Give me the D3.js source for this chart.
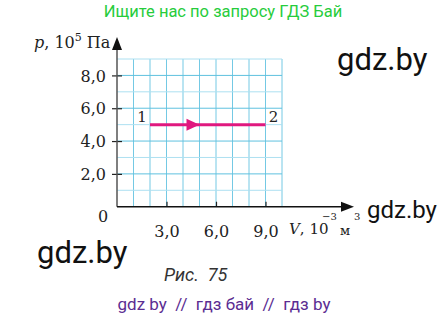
<!DOCTYPE html>
<html><head><meta charset="utf-8">
<script src="https://cdn.jsdelivr.net/npm/d3@7"></script>
<style>
html,body{margin:0;padding:0;background:#fff;}
svg{display:block;}
</style></head>
<body>
<script>
// Data
const xTicks = [3, 6, 9];
const xTickLabels = ["3,0", "6,0", "9,0"];
const yTicks = [2, 4, 6, 8];
const yTickLabels = ["2,0", "4,0", "6,0", "8,0"];
const processV = [2, 9];          // 10^-3 m^3
const processP = [5, 5];          // 10^5 Pa
const pointLabels = ["1", "2"];
const arrowAtV = 5;               // arrowhead tip position on process line
const gridV = [1,2,3,4,5,6,7,8,9,10];
const gridP = [1,2,3,4,5,6,7,8,9];

const W = 448, H = 318;
const svg = d3.select("body").append("svg").attr("width", W).attr("height", H);

const x = d3.scaleLinear().domain([0, 10]).range([117, 282]);
const y = d3.scaleLinear().domain([0, 9]).range([206.7, 59]);

const serif = "'DejaVu Serif', 'Liberation Serif', serif";
const sans = "Roboto, 'Noto Sans', sans-serif";

// Title
svg.append("text").attr("x", 223).attr("y", 17).attr("text-anchor", "middle")
  .attr("font-family", sans).attr("font-size", 16.5).attr("fill", "#27cc3c")
  .text("Ищите нас по запросу ГДЗ Бай");

// Grid
const grid = svg.append("g");
grid.selectAll("line.v").data(gridV).join("line")
  .attr("x1", d => x(d)).attr("x2", d => x(d))
  .attr("y1", y(0)).attr("y2", y(9))
  .attr("stroke", "#74c9e4").attr("stroke-width", 1);
grid.selectAll("line.h").data(gridP).join("line")
  .attr("x1", x(0)).attr("x2", x(10))
  .attr("y1", d => y(d)).attr("y2", d => y(d))
  .attr("stroke", d => d % 2 === 0 ? "#5fc1df" : "#ade0f1").attr("stroke-width", 1);

// Axes
const axisColor = "#222";
const yAxis = svg.append("g").attr("transform", `translate(${x(0)},0)`)
  .call(d3.axisLeft(y).tickValues(yTicks).tickFormat((d,i) => yTickLabels[i]).tickSize(5).tickPadding(6));
yAxis.select(".domain").remove();
yAxis.selectAll(".tick line").attr("x1", 5).attr("x2", -5).attr("stroke", axisColor).attr("stroke-width", 1.2);
yAxis.selectAll(".tick text").attr("font-family", serif).attr("font-size", 16).attr("fill", "#222").attr("dy", "0.35em");

const xAxis = svg.append("g").attr("transform", `translate(0,${y(0)})`)
  .call(d3.axisBottom(x).tickValues(xTicks).tickFormat((d,i) => xTickLabels[i]).tickSize(5).tickPadding(14));
xAxis.select(".domain").remove();
xAxis.selectAll(".tick line").attr("y1", -5).attr("y2", 0).attr("stroke", axisColor).attr("stroke-width", 1.2);
xAxis.selectAll(".tick text").attr("font-family", serif).attr("font-size", 16).attr("fill", "#222");

// axis lines with arrows
svg.append("line").attr("x1", x(0)).attr("x2", x(0)).attr("y1", y(0)).attr("y2", 44)
  .attr("stroke", "#555").attr("stroke-width", 1.5);
svg.append("path").attr("d", `M${x(0)},37 L${x(0)-5},50 L${x(0)+5},50 Z`).attr("fill", "#111");
svg.append("line").attr("x1", x(0)).attr("x2", 346).attr("y1", y(0)).attr("y2", y(0))
  .attr("stroke", "#111").attr("stroke-width", 1.5);
svg.append("path").attr("d", `M354,${y(0)} L341,${y(0)-5} L341,${y(0)+5} Z`).attr("fill", "#111");

// Origin label
svg.append("text").attr("x", 103).attr("y", 222).attr("text-anchor", "middle")
  .attr("font-family", serif).attr("font-size", 16).attr("fill", "#222").text("0");

// Axis titles
const yt = svg.append("text").attr("x", 34).attr("y", 48).attr("font-family", serif)
  .attr("font-size", 16).attr("fill", "#222");
yt.append("tspan").attr("font-style", "italic").text("p");
yt.append("tspan").text(", 10");
yt.append("tspan").attr("font-size", 11).attr("dy", -7).text("5");
yt.append("tspan").attr("dy", 7).text(" Па");

const xtg = svg.append("g").attr("font-family", serif).attr("fill", "#222");
xtg.append("text").attr("x", 289).attr("y", 234).attr("font-size", 15)
  .html('<tspan font-style="italic">V</tspan>, 10');
xtg.append("text").attr("x", 322).attr("y", 220).attr("font-size", 10).text("−3");
xtg.append("text").attr("x", 340).attr("y", 235).attr("font-size", 13).text("м");
xtg.append("text").attr("x", 354).attr("y", 220).attr("font-size", 10).text("3");

// Process line
const lineColor = "#e0187f";
svg.append("line")
  .attr("x1", x(processV[0])).attr("x2", x(processV[1]))
  .attr("y1", y(processP[0])).attr("y2", y(processP[1]))
  .attr("stroke", lineColor).attr("stroke-width", 3);
const ax = x(arrowAtV), ay = y(processP[0]);
svg.append("path").attr("d", `M${ax},${ay} L${ax-13},${ay-6} L${ax-13},${ay+6} Z`).attr("fill", lineColor);

svg.selectAll("text.pl").data(pointLabels).join("text")
  .attr("x", (d,i) => i === 0 ? x(processV[i]) - 8 : x(processV[i]) + 8)
  .attr("y", (d,i) => y(processP[i]) - 3)
  .attr("text-anchor", "middle")
  .attr("font-family", serif).attr("font-size", 15).attr("fill", "#222").text(d => d);

// Watermarks
svg.append("text").attr("x", 337).attr("y", 70).attr("font-family", sans).attr("font-size", 31).attr("fill", "#111").text("gdz.by");
svg.append("text").attr("x", 367).attr("y", 218).attr("font-family", sans).attr("font-size", 24).attr("fill", "#111").text("gdz.by");
svg.append("text").attr("x", 37).attr("y", 263).attr("font-family", sans).attr("font-size", 31).attr("fill", "#111").text("gdz.by");

// Caption
svg.append("text").attr("x", 164).attr("y", 281).attr("font-family", sans).attr("font-style", "italic")
  .attr("font-size", 18).attr("fill", "#333").style("white-space", "pre").text("Рис.  75");

svg.append("text").attr("x", 224).attr("y", 310).attr("text-anchor", "middle").attr("font-family", sans)
  .attr("font-size", 17).attr("fill", "#5b2d92").style("white-space", "pre").text("gdz by  //  гдз бай  //  гдз by");
</script>
</body></html>
